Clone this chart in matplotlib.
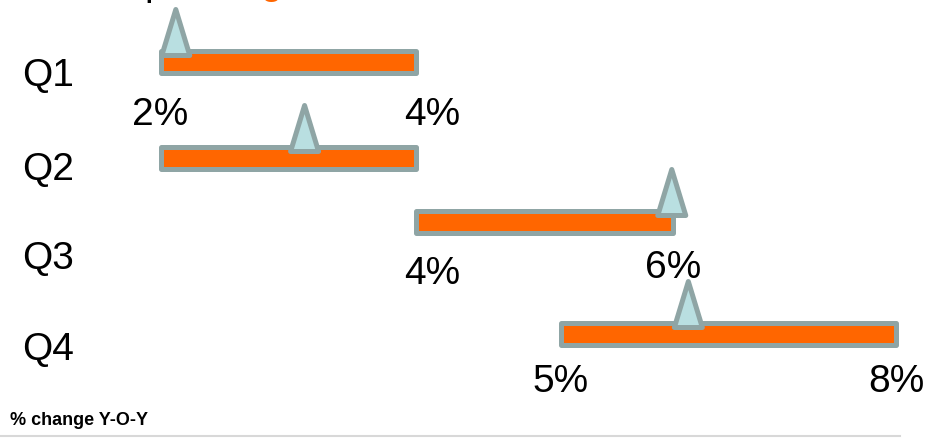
import matplotlib.pyplot as plt
from matplotlib.patches import Polygon

# data (percent change Y-O-Y)
quarters = ['Q1', 'Q2', 'Q3', 'Q4']
range_low = [2.0, 2.0, 4.0, 5.14]
range_high = [4.0, 4.0, 6.02, 7.77]
forecast = [2.12, 3.13, 6.01, 6.14]
low_labels = ['2%', '', '4%', '5%']
high_labels = ['4%', '', '6%', '8%']

# layout (pixels)
W, H = 947, 439
px_per_pct = 127.5
x0 = 2 - 160.5 / px_per_pct
bar_y = [62.5, 158.5, 222.5, 334.5]
q_label_y = [86, 180, 269, 360]
low_lab_y = [125, None, 284, 392]
high_lab_y = [125, None, 278, 392]
low_lab_shift = [0, 0, 17, 0]
high_lab_shift = [17, 0, 0, 0]

orange = '#ff6600'
edge = '#8fa5a5'
tri_fill = '#b9dfe1'

plt.rcParams['font.family'] = ['Liberation Sans', 'DejaVu Sans']

fig = plt.figure(figsize=(W / 100, H / 100), dpi=100)
ax = fig.add_axes([0, 0, 1, 1])
ax.set_xlim(x0, x0 + W / px_per_pct)
ax.set_ylim(H, 0)
ax.axis('off')

lw = 5 * 72 / 100  # 5 px border

for i in range(len(quarters)):
    ax.barh(bar_y[i], range_high[i] - range_low[i], left=range_low[i], height=22,
            color=orange, edgecolor=edge, linewidth=lw, joinstyle='round', zorder=2)
    # forecast marker (tall triangle)
    half = 14 / px_per_pct
    base = bar_y[i] - 6
    tri = Polygon([(forecast[i] - half, base), (forecast[i] + half, base), (forecast[i], base - 46)],
                  closed=True, facecolor=tri_fill, edgecolor=edge, linewidth=lw,
                  joinstyle='round', zorder=3)
    ax.add_patch(tri)

    ax.text(x0 + 22 / px_per_pct, q_label_y[i], quarters[i], fontsize=28,
            ha='left', va='baseline')
    if low_labels[i]:
        ax.text(range_low[i] + low_lab_shift[i] / px_per_pct, low_lab_y[i], low_labels[i],
                fontsize=28, ha='center', va='baseline')
    if high_labels[i]:
        ax.text(range_high[i] + high_lab_shift[i] / px_per_pct, high_lab_y[i], high_labels[i],
                fontsize=28, ha='center', va='baseline')

# title cut off at the top edge, only descenders visible
ax.text(x0 + 144 / px_per_pct, -5, 'p', fontsize=28, ha='left', va='baseline')
ax.text(x0 + 260 / px_per_pct, -6, 'g', fontsize=28, ha='left', va='baseline', color=orange)

ax.text(x0 + 10 / px_per_pct, 425, '% change Y-O-Y', fontsize=13, fontweight='bold',
        ha='left', va='baseline')

ax.plot([x0, x0 + 900 / px_per_pct], [437, 437], color='#d8d8d8', linewidth=1.5)

fig.savefig('out.png', dpi=100)
